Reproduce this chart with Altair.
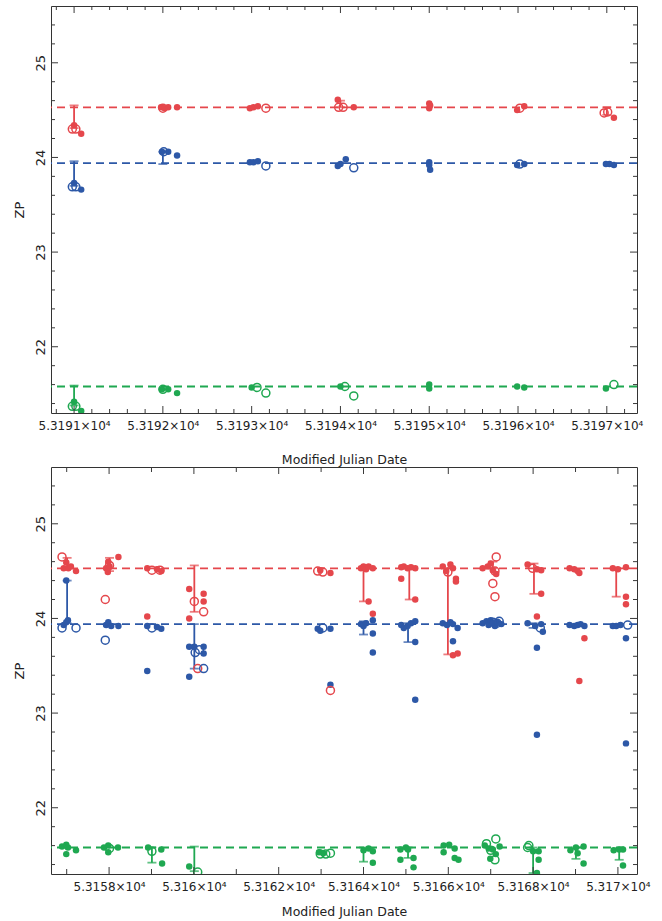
import altair as alt
import pandas as pd

# ---------------- shared settings ----------------
BANDS = ["r", "b", "g"]
COLORS = ["#e5474c", "#2d58a7", "#1fa851"]
REF_ZP = [24.53, 23.94, 21.58]
Y_DOMAIN = [21.3, 25.6]
Y_MAJOR = [22, 23, 24, 25]
Y_MINOR = [21.4, 21.6, 21.8, 22.2, 22.4, 22.6, 22.8, 23.2, 23.4, 23.6, 23.8,
           24.2, 24.4, 24.6, 24.8, 25.2, 25.4]

# ---------------- top panel (MJD 53191 - 53197) ----------------
TOP_X_DOMAIN = [53190.74, 53197.34]
TOP_X_MAJOR = [53191, 53192, 53193, 53194, 53195, 53196, 53197]
TOP_X_MINOR = [53190.8, 53191.2, 53191.4, 53191.6, 53191.8, 53192.2, 53192.4, 53192.6,
               53192.8, 53193.2, 53193.4, 53193.6, 53193.8, 53194.2, 53194.4, 53194.6,
               53194.8, 53195.2, 53195.4, 53195.6, 53195.8, 53196.2, 53196.4, 53196.6,
               53196.8, 53197.2]

TOP_RED_FILLED = [(53191.00, 24.34), (53191.08, 24.25),
                  (53191.98, 24.53), (53192.02, 24.52), (53192.06, 24.53), (53192.16, 24.53),
                  (53192.98, 24.52), (53193.02, 24.53), (53193.07, 24.54),
                  (53193.97, 24.61), (53194.15, 24.53),
                  (53195.00, 24.57), (53195.00, 24.52), (53195.01, 24.55),
                  (53195.99, 24.50), (53196.07, 24.54),
                  (53197.08, 24.42)]
TOP_RED_OPEN = [(53190.98, 24.30), (53191.02, 24.30), (53192.00, 24.52), (53193.16, 24.52),
                (53193.98, 24.53), (53194.03, 24.53), (53196.02, 24.52),
                (53196.97, 24.47), (53197.01, 24.48)]
TOP_BLUE_FILLED = [(53191.00, 23.73), (53191.08, 23.66),
                   (53191.99, 24.06), (53192.06, 24.06), (53192.16, 24.02),
                   (53192.98, 23.95), (53193.02, 23.95), (53193.07, 23.96),
                   (53193.97, 23.91), (53194.00, 23.93), (53194.06, 23.98),
                   (53195.00, 23.95), (53195.00, 23.92), (53195.01, 23.87),
                   (53195.99, 23.92), (53196.07, 23.93),
                   (53196.99, 23.93), (53197.03, 23.93), (53197.08, 23.92)]
TOP_BLUE_OPEN = [(53190.98, 23.69), (53191.02, 23.69), (53192.01, 24.06), (53193.16, 23.91),
                 (53194.15, 23.89), (53196.02, 23.93)]
TOP_GREEN_FILLED = [(53191.00, 21.42), (53191.08, 21.32),
                    (53191.99, 21.55), (53192.06, 21.55), (53192.16, 21.51),
                    (53193.00, 21.57), (53194.00, 21.58),
                    (53195.00, 21.60), (53195.00, 21.56),
                    (53195.99, 21.58), (53196.07, 21.57), (53196.99, 21.56)]
TOP_GREEN_OPEN = [(53190.98, 21.37), (53191.02, 21.37), (53192.00, 21.55),
                  (53193.06, 21.57), (53193.16, 21.51), (53194.05, 21.58), (53194.15, 21.48),
                  (53197.08, 21.60)]
# error bars: (mjd, low, high)
TOP_RED_ERR = [(53191.00, 24.31, 24.55), (53194.00, 24.53, 24.60), (53197.00, 24.45, 24.53)]
TOP_BLUE_ERR = [(53191.00, 23.70, 23.96), (53192.00, 23.93, 24.06)]
TOP_GREEN_ERR = [(53191.00, 21.38, 21.59)]

# ---------------- bottom panel (MJD 53157 - 53170) ----------------
BOT_X_DOMAIN = [53156.63, 53170.45]
BOT_X_MAJOR = [53158, 53160, 53162, 53164, 53166, 53168, 53170]
BOT_X_MINOR = [53157, 53159, 53161, 53163, 53165, 53167, 53169]

BOT_RED_FILLED = [(53156.93, 24.53), (53156.99, 24.59), (53157.04, 24.53), (53157.10, 24.55), (53157.22, 24.50),
                  (53157.93, 24.53), (53157.97, 24.49), (53157.98, 24.60), (53158.01, 24.55), (53158.22, 24.65),
                  (53158.90, 24.53), (53159.13, 24.52), (53159.23, 24.50), (53158.90, 24.02),
                  (53159.89, 24.31), (53159.89, 24.00), (53160.23, 24.26), (53160.23, 24.18),
                  (53162.98, 24.51), (53163.22, 24.48),
                  (53163.94, 24.53), (53164.00, 24.55), (53164.06, 24.52), (53164.12, 24.55), (53164.22, 24.53),
                  (53164.12, 24.18), (53164.22, 24.05),
                  (53164.89, 24.54), (53164.95, 24.55), (53165.04, 24.53), (53165.12, 24.54), (53165.22, 24.53),
                  (53164.89, 24.42), (53165.22, 24.20),
                  (53165.87, 24.55), (53165.95, 24.50), (53166.05, 24.57), (53166.11, 24.53), (53166.18, 24.42),
                  (53166.18, 24.39), (53166.11, 23.61), (53166.22, 23.63),
                  (53166.81, 24.53), (53166.93, 24.55), (53167.00, 24.58), (53167.05, 24.51), (53167.13, 24.47),
                  (53167.87, 24.57), (53168.09, 24.52), (53168.19, 24.51), (53168.19, 24.26), (53168.09, 24.02),
                  (53168.86, 24.53), (53168.97, 24.52), (53169.05, 24.50), (53169.09, 24.48), (53169.09, 23.34),
                  (53169.21, 23.79),
                  (53169.88, 24.53), (53170.00, 24.52), (53170.19, 24.54), (53170.19, 24.23), (53170.19, 24.15)]
BOT_RED_OPEN = [(53156.89, 24.65), (53158.01, 24.56), (53157.91, 24.20), (53159.01, 24.51), (53159.20, 24.51),
                (53160.01, 24.18), (53160.23, 24.07), (53160.09, 23.47),
                (53162.92, 24.50), (53163.04, 24.49), (53163.22, 23.24), (53165.99, 24.49),
                (53167.13, 24.65), (53167.05, 24.37), (53167.10, 24.23), (53167.10, 24.50), (53167.99, 24.53)]
BOT_BLUE_FILLED = [(53156.99, 24.40), (53156.93, 23.93), (53156.99, 23.96), (53157.03, 23.98),
                   (53157.93, 23.93), (53157.98, 23.96), (53158.05, 23.92), (53158.22, 23.92),
                   (53158.90, 23.92), (53159.13, 23.91), (53159.23, 23.89), (53158.90, 23.445),
                   (53159.89, 23.70), (53160.01, 23.70), (53160.23, 23.70), (53160.23, 23.63), (53159.89, 23.385),
                   (53162.92, 23.89), (53162.98, 23.87), (53163.22, 23.89), (53163.22, 23.30),
                   (53163.94, 23.94), (53164.00, 23.92), (53164.06, 23.95), (53164.22, 23.98), (53164.22, 23.84),
                   (53164.22, 23.64),
                   (53164.89, 23.93), (53164.95, 23.90), (53165.04, 23.92), (53165.12, 23.95), (53165.22, 23.97),
                   (53165.22, 23.75), (53165.22, 23.14),
                   (53165.87, 23.95), (53165.97, 23.93), (53166.05, 23.96), (53166.11, 23.94), (53166.22, 23.90),
                   (53166.11, 23.76),
                   (53166.81, 23.95), (53166.90, 23.97), (53166.95, 23.93), (53167.00, 23.98), (53167.05, 23.95),
                   (53167.10, 23.92), (53167.15, 23.96), (53167.25, 23.94),
                   (53167.87, 23.95), (53168.05, 23.92), (53168.19, 23.94), (53168.23, 23.86), (53168.09, 23.69),
                   (53168.09, 22.77),
                   (53168.86, 23.93), (53168.97, 23.92), (53169.05, 23.93), (53169.12, 23.94), (53169.21, 23.92),
                   (53169.88, 23.92), (53169.96, 23.92), (53170.06, 23.93), (53170.19, 23.79), (53170.19, 22.68)]
BOT_BLUE_OPEN = [(53156.89, 23.90), (53157.22, 23.90), (53157.91, 23.77), (53159.01, 23.90),
                 (53160.03, 23.64), (53160.13, 23.67), (53160.23, 23.47), (53163.04, 23.90),
                 (53167.05, 23.96), (53167.15, 23.95), (53167.20, 23.97), (53168.17, 23.90), (53170.23, 23.93)]
BOT_GREEN_FILLED = [(53156.89, 21.59), (53156.99, 21.61), (53156.99, 21.51), (53157.03, 21.58), (53157.22, 21.55),
                    (53157.88, 21.58), (53157.98, 21.60), (53157.98, 21.53), (53158.21, 21.58),
                    (53158.92, 21.58), (53159.23, 21.56), (53159.25, 21.41),
                    (53159.89, 21.38),
                    (53162.95, 21.53), (53163.05, 21.52),
                    (53164.00, 21.55), (53164.12, 21.57), (53164.22, 21.54), (53164.22, 21.42),
                    (53164.87, 21.56), (53165.00, 21.58), (53164.87, 21.45), (53165.18, 21.47), (53165.18, 21.37),
                    (53165.05, 21.56),
                    (53165.89, 21.60), (53166.02, 21.61), (53166.15, 21.57), (53165.89, 21.53), (53166.15, 21.47),
                    (53166.24, 21.45),
                    (53166.86, 21.60), (53166.95, 21.57), (53166.99, 21.46), (53167.05, 21.56), (53167.12, 21.51),
                    (53167.21, 21.59),
                    (53168.00, 21.54), (53168.13, 21.54), (53168.13, 21.45), (53168.09, 21.31),
                    (53168.88, 21.55), (53169.01, 21.58), (53169.19, 21.59), (53169.19, 21.41), (53169.05, 21.52),
                    (53169.90, 21.55), (53170.03, 21.56), (53170.12, 21.56), (53170.12, 21.39)]
BOT_GREEN_OPEN = [(53158.01, 21.57), (53159.01, 21.54), (53160.09, 21.32),
                  (53162.98, 21.51), (53163.11, 21.51), (53163.22, 21.52),
                  (53167.12, 21.67), (53167.10, 21.45), (53167.00, 21.55), (53166.90, 21.62),
                  (53167.87, 21.58), (53167.90, 21.60)]
BOT_RED_ERR = [(53157.01, 24.53, 24.64), (53158.01, 24.50, 24.64), (53160.01, 24.07, 24.56),
               (53164.00, 24.18, 24.53), (53165.08, 24.20, 24.53), (53165.99, 23.62, 24.53),
               (53167.05, 24.53, 24.60), (53168.02, 24.26, 24.58), (53169.96, 24.23, 24.53)]
BOT_BLUE_ERR = [(53157.01, 23.95, 24.40), (53160.01, 23.47, 23.94), (53164.00, 23.83, 23.97),
                (53165.05, 23.75, 23.95), (53168.00, 23.90, 23.95)]
BOT_GREEN_ERR = [(53159.01, 21.42, 21.58), (53160.01, 21.33, 21.59), (53164.00, 21.43, 21.58),
                 (53165.05, 21.47, 21.58), (53168.00, 21.31, 21.58), (53169.01, 21.46, 21.58),
                 (53170.03, 21.45, 21.57)]

FONT = "DejaVu Sans"
TICK_COLOR = "#3a3a3a"
W, H = 586, 407


def pts_frame(red, blue, green):
    rows = []
    for band, lst in zip(BANDS, [red, blue, green]):
        for m, z in lst:
            rows.append({"mjd": m, "zp": z, "band": band})
    return pd.DataFrame(rows)


def err_frame(red, blue, green):
    rows = []
    for band, lst in zip(BANDS, [red, blue, green]):
        for m, lo, hi in lst:
            rows.append({"mjd": m, "zp": lo, "zp2": hi, "band": band})
    return pd.DataFrame(rows)


def panel(filled, opened, errs, xdom, xmaj, xmin, xmaj_len, xmin_len, title_pad):
    xs = alt.Scale(domain=xdom, nice=False, zero=False)
    ys = alt.Scale(domain=Y_DOMAIN, nice=False, zero=False)
    xaxis = alt.Axis(values=xmaj, title="Modified Julian Date",
                     labelExpr="format(datum.value / 10000, '.4~f') + '×10⁴'",
                     domain=False, ticks=False, grid=False, labelPadding=7,
                     titlePadding=title_pad, labelFontSize=12, titleFontSize=12.5,
                     labelOverlap=False, labelFlush=False)
    yaxis = alt.Axis(values=Y_MAJOR, title="ZP", labelAngle=270, labelAlign="center",
                     labelBaseline="bottom", domain=False, ticks=False, grid=False,
                     labelPadding=4, titlePadding=8, labelFontSize=13, titleFontSize=13,
                     labelOverlap=False, labelFlush=False)
    X = alt.X("mjd:Q", scale=xs, axis=xaxis)
    Y = alt.Y("zp:Q", scale=ys, axis=yaxis)
    C = alt.Color("band:N", scale=alt.Scale(domain=BANDS, range=COLORS), legend=None)

    ref = alt.Chart(pd.DataFrame({"zp": REF_ZP, "band": BANDS})).mark_rule(
        strokeDash=[8, 5], strokeWidth=1.8).encode(y=Y, color=C)

    edf = err_frame(*errs)
    ebar = alt.Chart(edf).mark_rule(strokeWidth=1.8, clip=True).encode(
        x=X, y=Y, y2="zp2:Q", color=C)
    cap_lo = alt.Chart(edf).mark_tick(orient="horizontal", size=9, thickness=1.8, clip=True).encode(
        x=X, y=Y, color=C)
    cap_hi = alt.Chart(edf).mark_tick(orient="horizontal", size=9, thickness=1.8, clip=True).encode(
        x=X, y=alt.Y("zp2:Q", scale=ys, axis=yaxis), color=C)

    fpts = alt.Chart(pts_frame(*filled)).mark_circle(size=42, opacity=1, clip=True).encode(
        x=X, y=Y, color=C)
    opts = alt.Chart(pts_frame(*opened)).mark_point(shape="circle", filled=False, size=64,
                                                    strokeWidth=1.5, opacity=1, clip=True).encode(
        x=X, y=Y, color=C)

    layers = [ref, ebar, cap_lo, cap_hi, fpts, opts]
    # inward tick marks on all four sides
    for vals, L in [(xmaj, xmaj_len), (xmin, xmin_len)]:
        base = alt.Chart(pd.DataFrame({"mjd": vals})).mark_rule(color=TICK_COLOR, strokeWidth=1)
        layers.append(base.encode(x=X, y=alt.value(H), y2=alt.value(H - L)))
        layers.append(base.encode(x=X, y=alt.value(0), y2=alt.value(L)))
    for vals, L in [(Y_MAJOR, 7), (Y_MINOR, 4)]:
        base = alt.Chart(pd.DataFrame({"zp": vals})).mark_rule(color=TICK_COLOR, strokeWidth=1)
        layers.append(base.encode(y=Y, x=alt.value(0), x2=alt.value(L)))
        layers.append(base.encode(y=Y, x=alt.value(W), x2=alt.value(W - L)))
    return alt.layer(*layers).properties(width=W, height=H)


top = panel((TOP_RED_FILLED, TOP_BLUE_FILLED, TOP_GREEN_FILLED),
            (TOP_RED_OPEN, TOP_BLUE_OPEN, TOP_GREEN_OPEN),
            (TOP_RED_ERR, TOP_BLUE_ERR, TOP_GREEN_ERR),
            TOP_X_DOMAIN, TOP_X_MAJOR, TOP_X_MINOR, 7, 4, 22)
bottom = panel((BOT_RED_FILLED, BOT_BLUE_FILLED, BOT_GREEN_FILLED),
               (BOT_RED_OPEN, BOT_BLUE_OPEN, BOT_GREEN_OPEN),
               (BOT_RED_ERR, BOT_BLUE_ERR, BOT_GREEN_ERR),
               BOT_X_DOMAIN, BOT_X_MAJOR, BOT_X_MINOR, 7, 5, 13)

chart = alt.vconcat(top, bottom, spacing=0).properties(
    padding={"left": 12, "top": 5, "right": 10, "bottom": 2},
    background="white",
).configure_view(stroke="#333333", strokeWidth=1).configure_axis(
    labelFont=FONT, titleFont=FONT, labelColor="#222222", titleColor="#222222",
    titleFontWeight="normal")

chart.save("out.html", embed_options={"renderer": "svg", "actions": False})
